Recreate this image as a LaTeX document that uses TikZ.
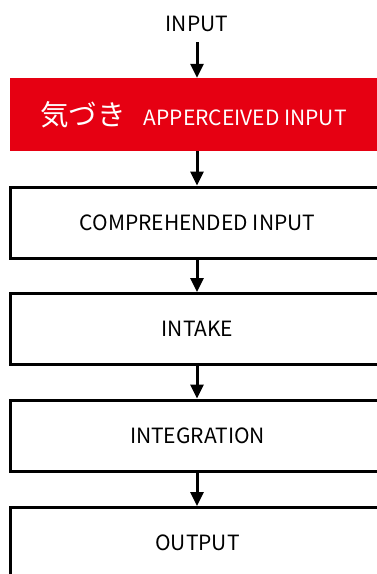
\documentclass[tikz,border=0pt]{standalone}
\usepackage{fontspec}
\setmainfont{Noto Sans CJK JP}
\usetikzlibrary{arrows.meta}
\definecolor{kizukired}{RGB}{230,0,18}
\begin{document}
\begin{tikzpicture}[x=1pt,y=-1pt,
  stagebox/.style={draw,line width=3pt,minimum width=375pt,minimum height=71pt,inner sep=0pt,font=\fontsize{21}{24}\selectfont},
  redbox/.style={fill=kizukired,text=white,minimum width=376pt,minimum height=73pt,inner sep=0pt},
  flow/.style={-{Triangle[width=13pt,length=14pt]},line width=3pt}]
\useasboundingbox (0,0) rectangle (376,574);
\node[font=\fontsize{21}{24}\selectfont] (input) at (197,24) {INPUT};
\node[redbox] (apperceived) at (198,114.5) {{\fontsize{28.5}{30}\selectfont 気づき}\kern18pt{\fontsize{21}{24}\selectfont APPERCEIVED INPUT}\kern9pt};
\node[stagebox] (comprehended) at (197.5,222.5) {COMPREHENDED INPUT};
\node[stagebox] (intake) at (197.5,329) {INTAKE};
\node[stagebox] (integration) at (197.5,435.5) {INTEGRATION};
\node[stagebox] (output) at (197.5,543) {OUTPUT};
\draw[flow] (197,42) -- (apperceived.north -| 197,0);
\draw[flow] (apperceived.south -| 197,0) -- (comprehended.north -| 197,0);
\draw[flow] (comprehended.south -| 197,0) -- (intake.north -| 197,0);
\draw[flow] (intake.south -| 197,0) -- (integration.north -| 197,0);
\draw[flow] (integration.south -| 197,0) -- (output.north -| 197,0);
\end{tikzpicture}
\end{document}
